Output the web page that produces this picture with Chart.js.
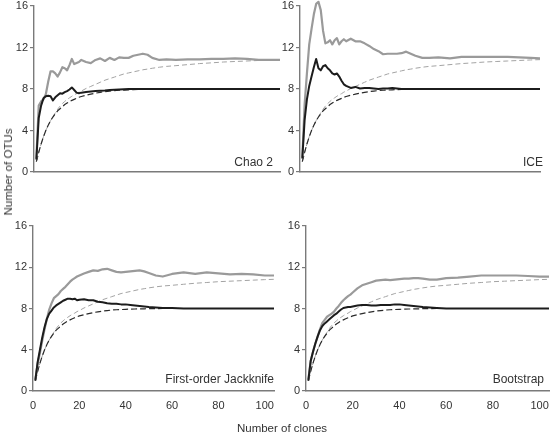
<!DOCTYPE html>
<html>
<head>
<meta charset="utf-8">
<script src="https://cdn.jsdelivr.net/npm/chart.js@4/dist/chart.umd.min.js"></script>
<style>
  html, body { margin: 0; padding: 0; background: #fff; overflow: hidden; }
  body { width: 550px; height: 437px; position: relative; font-family: 'Liberation Sans', Arial, sans-serif; color: #333; }
  canvas { position: absolute; }
  .axis-title { position: absolute; font-size: 11.5px; white-space: nowrap; }
  #xTitle { left: 282px; top: 428px; transform: translate(-50%, -50%); }
  #yTitle { left: 8px; top: 172px; transform: translate(-50%, -50%) rotate(-90deg); }
</style>
</head>
<body>
<canvas id="chao"></canvas>
<canvas id="ice"></canvas>
<canvas id="jack"></canvas>
<canvas id="boot"></canvas>
<div id="xTitle" class="axis-title">Number of clones</div>
<div id="yTitle" class="axis-title">Number of OTUs</div>
<script>
// sample points along the x axis (number of clones)
const clones = [1, 2, 3, 4, 5, 6, 7, 8, 9, 10, 11, 12, 13, 14, 15, 16, 17, 18, 19, 20,
  22, 24, 26, 28, 30, 32, 34, 36, 38, 40, 42, 44, 46, 48, 50,
  53, 56, 60, 65, 70, 75, 80, 85, 90, 95, 100, 104];

const xTicks = [0, 20, 40, 60, 80, 100];
const yTicks = [0, 4, 8, 12, 16];

// dashed curves, same in every panel
const observed = [1.0, 1.9, 2.7, 3.4, 4.0, 4.5, 4.95, 5.3, 5.6, 5.9, 6.1, 6.3, 6.5, 6.65, 6.8, 6.9, 7.0, 7.1, 7.2, 7.28,
  7.4, 7.5, 7.6, 7.68, 7.75, 7.8, 7.85, 7.88, 7.9, 7.92, 7.94, 7.95, 7.96, 7.97, 7.98,
  7.99, 8, 8, 8, 8, 8, 8, 8, 8, 8, 8, 8];
const expected = [1.0, 1.9, 2.7, 3.4, 4.0, 4.5, 4.95, 5.35, 5.7, 6.05, 6.35, 6.6, 6.8, 7.0, 7.15, 7.3, 7.45, 7.55, 7.7, 7.8,
  8.05, 8.25, 8.45, 8.65, 8.85, 9.0, 9.15, 9.3, 9.45, 9.55, 9.65, 9.75, 9.85, 9.92, 10.0,
  10.1, 10.18, 10.25, 10.35, 10.45, 10.52, 10.6, 10.65, 10.7, 10.75, 10.8, 10.83];

// Chao 2
const chaoUpper = [1.3, 6.4, 6.8, 7.0, 7.5, 8.7, 9.7, 9.7, 9.5, 9.2, 9.6, 10.1, 10.0, 9.8, 10.3, 10.9, 10.4, 10.5, 10.6, 10.8,
  10.6, 10.5, 10.8, 10.95, 10.7, 11.0, 10.8, 11.05, 11.0, 11.0, 11.2, 11.3, 11.4, 11.3, 11.0,
  10.8, 10.85, 10.8, 10.85, 10.85, 10.9, 10.9, 10.95, 10.9, 10.8, 10.8, 10.8];
const chaoLower = [1.2, 5.2, 6.4, 7.1, 7.3, 7.35, 7.3, 6.9, 7.2, 7.4, 7.6, 7.55, 7.7, 7.8, 7.95, 8.15, 7.9, 7.65, 7.6, 7.65,
  7.7, 7.75, 7.8, 7.82, 7.85, 7.9, 7.92, 7.95, 7.97, 8.0, 8, 8, 8, 8, 8,
  8, 8, 8, 8, 8, 8, 8, 8, 8, 8, 8, 8];

// ICE
const iceUpper = [1.4, 6.5, 9.5, 12.3, 13.8, 15.2, 16.2, 16.4, 15.6, 13.6, 12.4, 12.5, 12.7, 12.3, 12.7, 12.9, 12.3, 12.6, 12.8, 12.6,
  12.85, 12.6, 12.6, 12.4, 12.15, 11.85, 11.65, 11.35, 11.4, 11.4, 11.4, 11.45, 11.6, 11.4, 11.2,
  11.0, 11.0, 11.05, 10.95, 11.1, 11.1, 11.1, 11.1, 11.1, 11.05, 11.0, 10.95];
const iceLower = [1.3, 5.0, 7.0, 8.3, 9.2, 10.1, 10.9, 10.0, 9.8, 10.2, 10.3, 10.0, 9.8, 9.5, 9.4, 9.5, 9.2, 8.8, 8.45, 8.3,
  8.1, 8.2, 8.05, 8.1, 8.1, 8.05, 8.0, 8.05, 8.05, 8.1, 8.05, 8.0, 8, 8, 8,
  8, 8, 8, 8, 8, 8, 8, 8, 8, 8, 8, 8];

// First-order Jackknife
const jackUpper = [1.1, 2.6, 3.7, 4.9, 6.0, 7.0, 7.9, 8.5, 9.0, 9.2, 9.4, 9.7, 9.9, 10.1, 10.35, 10.6, 10.8, 10.95, 11.1, 11.2,
  11.4, 11.55, 11.7, 11.65, 11.8, 11.85, 11.7, 11.55, 11.5, 11.55, 11.6, 11.65, 11.7, 11.6, 11.45,
  11.2, 11.1, 11.35, 11.5, 11.35, 11.5, 11.4, 11.3, 11.35, 11.3, 11.2, 11.2];
const jackLower = [1.0, 2.8, 4.0, 5.2, 6.2, 7.0, 7.5, 7.8, 8.1, 8.3, 8.45, 8.6, 8.75, 8.85, 8.95, 8.95, 8.9, 8.95, 8.8, 8.85,
  8.9, 8.8, 8.8, 8.65, 8.6, 8.5, 8.45, 8.45, 8.4, 8.4, 8.35, 8.3, 8.25, 8.2, 8.15,
  8.1, 8.05, 8.05, 8.0, 8, 8, 8, 8, 8, 8, 8, 8];

// Bootstrap
const bootUpper = [1.1, 2.9, 3.8, 4.6, 5.3, 6.0, 6.6, 6.9, 7.2, 7.35, 7.5, 7.7, 8.0, 8.25, 8.55, 8.8, 9.0, 9.2, 9.35, 9.55,
  9.95, 10.25, 10.4, 10.55, 10.7, 10.75, 10.8, 10.75, 10.8, 10.85, 10.9, 10.9, 10.95, 10.95, 10.9,
  10.8, 10.8, 10.95, 11.0, 11.1, 11.2, 11.2, 11.2, 11.2, 11.15, 11.1, 11.1];
const bootLower = [1.0, 2.9, 3.8, 4.6, 5.3, 5.9, 6.3, 6.55, 6.75, 6.95, 7.15, 7.35, 7.5, 7.7, 7.9, 8.05, 8.1, 8.15, 8.15, 8.2,
  8.3, 8.35, 8.35, 8.3, 8.3, 8.35, 8.35, 8.35, 8.4, 8.4, 8.35, 8.3, 8.25, 8.2, 8.15,
  8.1, 8.05, 8.0, 8, 8, 8, 8, 8, 8, 8, 8, 8];

const FONT_FAMILY = "'Liberation Sans', Arial, Helvetica, sans-serif";
const AXIS_COLOR = '#7a7a7a';
const TEXT_COLOR = '#333';
const PAD = 12;

const toPoints = (values) => values.map((y, i) => ({ x: clones[i], y }));

const panelTitle = {
  id: 'panelTitle',
  afterDraw(chart, args, opts) {
    const { ctx, chartArea } = chart;
    ctx.save();
    ctx.font = `12px ${FONT_FAMILY}`;
    ctx.fillStyle = TEXT_COLOR;
    ctx.textAlign = 'right';
    ctx.textBaseline = 'alphabetic';
    ctx.fillText(opts.text, chartArea.right + opts.dx, chartArea.bottom + opts.dy);
    ctx.restore();
  },
};

const makePanel = ({ id, area, yWidth, showX, title, dx, dy, upper, lower }) => {
  const xHeight = showX ? 30 : 12;
  const canvas = document.getElementById(id);
  canvas.width = area.right - area.left + yWidth + PAD;
  canvas.height = area.bottom - area.top + PAD + xHeight;
  canvas.style.left = `${area.left - yWidth}px`;
  canvas.style.top = `${area.top - PAD}px`;

  const line = (data, color, width, dash) => ({
    data: toPoints(data),
    borderColor: color,
    borderWidth: width,
    borderDash: dash,
    pointRadius: 0,
    tension: 0,
    borderJoinStyle: 'round',
    clip: false,
  });

  // first dataset is painted last, so the black estimator sits on top
  const DATASETS = [
    line(lower, '#1c1c1c', 2, []),
    line(upper, '#9a9a9a', 2.2, []),
    line(observed, '#2a2a2a', 1.2, [6, 3]),
    line(expected, '#a3a3a3', 1, [5, 3]),
  ];

  const SCALES = {
    x: {
      type: 'linear',
      min: 0,
      max: 104,
      afterFit: (scale) => { scale.height = xHeight; },
      afterBuildTicks: (scale) => { scale.ticks = xTicks.map((value) => ({ value })); },
      border: { color: AXIS_COLOR, width: 1.4 },
      grid: { drawOnChartArea: false, drawTicks: false },
      ticks: {
        display: showX,
        padding: 8,
        color: TEXT_COLOR,
        font: { family: FONT_FAMILY, size: 11 },
        maxRotation: 0,
      },
    },
    y: {
      min: 0,
      max: 16,
      afterFit: (scale) => { scale.width = yWidth; },
      afterBuildTicks: (scale) => { scale.ticks = yTicks.map((value) => ({ value })); },
      border: { color: AXIS_COLOR, width: 1.4 },
      grid: { drawOnChartArea: false, color: AXIS_COLOR, lineWidth: 1.2, tickLength: 4 },
      ticks: {
        padding: 2,
        color: TEXT_COLOR,
        font: { family: FONT_FAMILY, size: 11 },
      },
    },
  };

  return new Chart(canvas, {
    type: 'line',
    data: { datasets: DATASETS },
    options: {
      responsive: false,
      animation: false,
      events: [],
      layout: { padding: { top: PAD, right: PAD, left: 0, bottom: 0 } },
      plugins: {
        legend: { display: false },
        tooltip: { enabled: false },
        panelTitle: { text: title, dx, dy },
      },
      scales: SCALES,
    },
    plugins: [panelTitle],
  });
};

makePanel({ id: 'chao', area: { left: 34, right: 280, top: 6, bottom: 172 }, yWidth: 34, showX: false,
  title: 'Chao 2', dx: -7, dy: -6, upper: chaoUpper, lower: chaoLower });
makePanel({ id: 'ice', area: { left: 300, right: 540, top: 6, bottom: 172 }, yWidth: 40, showX: false,
  title: 'ICE', dx: 3, dy: -6, upper: iceUpper, lower: iceLower });
makePanel({ id: 'jack', area: { left: 33, right: 274, top: 226, bottom: 391 }, yWidth: 33, showX: true,
  title: 'First-order Jackknife', dx: 0, dy: -8, upper: jackUpper, lower: jackLower });
makePanel({ id: 'boot', area: { left: 306, right: 549, top: 226, bottom: 391 }, yWidth: 40, showX: true,
  title: 'Bootstrap', dx: -5, dy: -8, upper: bootUpper, lower: bootLower });
</script>
</body>
</html>
